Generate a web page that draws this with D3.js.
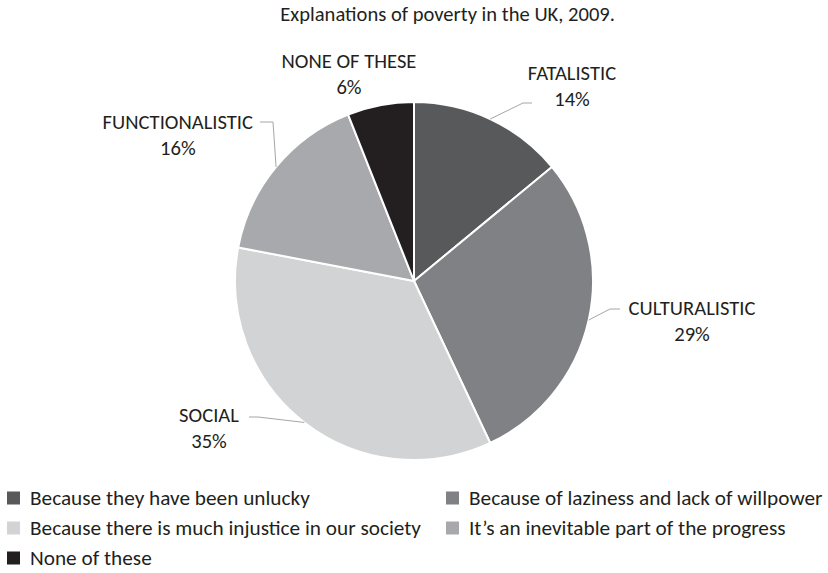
<!DOCTYPE html>
<html>
<head>
<meta charset="utf-8">
<script src="https://cdn.jsdelivr.net/npm/d3@7"></script>
<style>
  html, body { margin: 0; padding: 0; background: #fff; }
  svg { display: block; font-family: Carlito, Calibri, Lato, sans-serif; }
</style>
</head>
<body>
<svg id="chart" width="828" height="573"></svg>
<script>
const title = "Explanations of poverty in the UK, 2009.";
const categories = ["FATALISTIC", "CULTURALISTIC", "SOCIAL", "FUNCTIONALISTIC", "NONE OF THESE"];
const legendLabels = [
  "Because they have been unlucky",
  "Because of laziness and lack of willpower",
  "Because there is much injustice in our society",
  "It\u2019s an inevitable part of the progress",
  "None of these"
];
const values = [14, 29, 35, 16, 6];
const colors = ["#58595b", "#808184", "#d1d3d4", "#a7a9ac", "#231f20"];

// layout (positions only)
const cx = 414, cy = 281, R = 179;
const textColor = "#231f20";
const svg = d3.select("#chart");

// measure helper to size fonts to the reference text widths
function fitSize(str, targetWidth) {
  const t = svg.append("text").attr("font-size", 100).text(str);
  const w = t.node().getComputedTextLength();
  t.remove();
  return 100 * targetWidth / w;
}
const labelFont = fitSize("CULTURALISTIC", 127);
const legendFont = fitSize("Because they have been unlucky", 280);
const titleFont = fitSize(title, 335);

// label anchors: anchor "middle" at x, or "endAt" for right-aligned first line
const labelPos = [
  { x: 572, y: 80, leader: [[523, 103], [532, 103]] },
  { x: 692, y: 315, leader: [[610, 309], [620, 309]] },
  { x: 209, y: 422, leader: [[258, 417], [249, 417]] },
  { endAt: 253, y: 129, leader: [[273, 122], [260, 122]] },
  { x: 349, y: 68, leader: null }
];

svg.append("text")
  .attr("x", 615).attr("y", 21)
  .attr("text-anchor", "end")
  .attr("font-size", titleFont)
  .attr("fill", textColor)
  .text(title);

const data = categories.map((c, i) => ({ cat: c, value: values[i], color: colors[i], legend: legendLabels[i] }));

const pie = d3.pie().value(d => d.value).sort(null);
const arcs = pie(data);
const arc = d3.arc().innerRadius(0).outerRadius(R);

const g = svg.append("g").attr("transform", `translate(${cx},${cy})`);
g.selectAll("path")
  .data(arcs)
  .join("path")
  .attr("d", arc)
  .attr("fill", d => d.data.color)
  .attr("stroke", "#fff")
  .attr("stroke-width", 2)
  .attr("stroke-linejoin", "round");

// leader lines
arcs.forEach((a, i) => {
  const lp = labelPos[i];
  if (!lp.leader) return;
  const mid = (a.startAngle + a.endAngle) / 2;
  const px = cx + R * Math.sin(mid), py = cy - R * Math.cos(mid);
  const pts = [[px, py], ...lp.leader];
  svg.append("path")
    .attr("d", d3.line()(pts))
    .attr("fill", "none")
    .attr("stroke", "#a6a6a6")
    .attr("stroke-width", 1);
});

// labels
arcs.forEach((a, i) => {
  const lp = labelPos[i];
  const t = svg.append("text")
    .attr("text-anchor", "middle")
    .attr("font-size", labelFont)
    .attr("fill", textColor);
  const s1 = t.append("tspan").attr("y", lp.y).text(a.data.cat);
  const s2 = t.append("tspan").attr("y", lp.y + 26).text(a.data.value + "%");
  let x = lp.x;
  if (lp.endAt !== undefined) {
    const w = s1.node().getComputedTextLength();
    x = lp.endAt - w / 2;
  }
  s1.attr("x", x);
  s2.attr("x", x);
});

// legend
const legendCols = [7, 446];
const legendRows = [498, 528, 558];
data.forEach((d, i) => {
  const col = i % 2, row = Math.floor(i / 2);
  const lx = legendCols[col], ly = legendRows[row];
  svg.append("rect")
    .attr("x", lx).attr("y", ly - 6.5)
    .attr("width", 13).attr("height", 13)
    .attr("fill", d.color);
  svg.append("text")
    .attr("x", lx + 23).attr("y", ly + 6.5)
    .attr("font-size", legendFont)
    .attr("fill", textColor)
    .text(d.legend);
});
</script>
</body>
</html>
